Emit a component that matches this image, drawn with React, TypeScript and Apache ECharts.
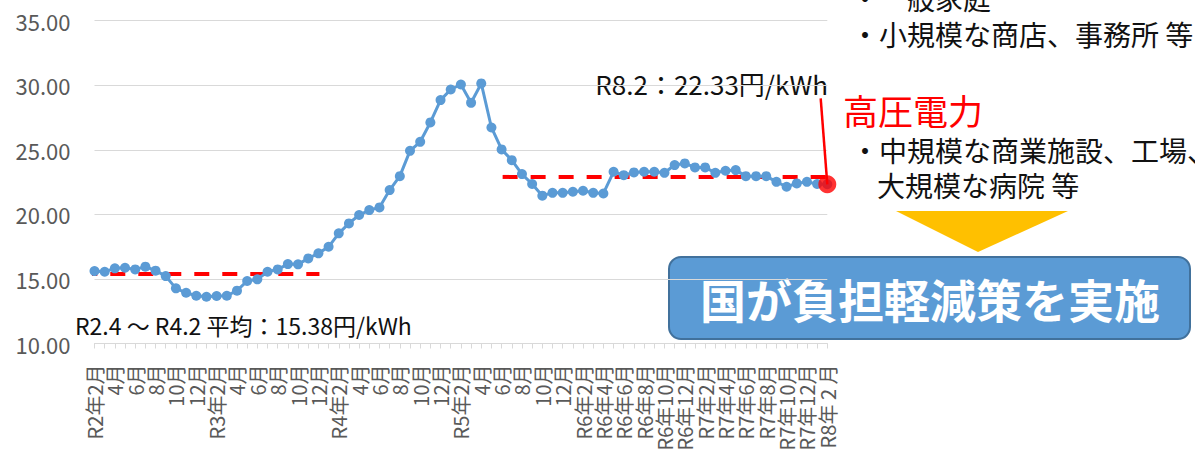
import React, { useEffect, useRef } from "react";
import * as echarts from "echarts";

const FONT = '"Noto Sans CJK JP", "Noto Sans", sans-serif';

// Monthly categories R2年2月 ... R8年2月 (73 months)
const categories: string[] = Array.from({ length: 73 }, (_, i) => {
  const t = 1 + i;
  const y = 2 + Math.floor(t / 12);
  const m = (t % 12) + 1;
  return `R${y}年${m}月`;
});

// Labels shown every 2 months
const tickLabels: string[] = [
  "R2年2月", "4月", "6月", "8月", "10月", "12月",
  "R3年2月", "4月", "6月", "8月", "10月", "12月",
  "R4年2月", "4月", "6月", "8月", "10月", "12月",
  "R5年2月", "4月", "6月", "8月", "10月", "12月",
  "R6年2月", "R6年4月", "R6年6月", "R6年8月", "R6年10月", "R6年12月",
  "R7年2月", "R7年4月", "R7年6月", "R7年8月", "R7年10月", "R7年12月",
  "R8年 2 月",
];

// 高圧電力 unit price (円/kWh)
const prices: number[] = [
  15.61, 15.56, 15.82, 15.87, 15.74, 15.95, 15.64, 15.22, 14.27, 13.93,
  13.70, 13.62, 13.68, 13.70, 14.09, 14.84, 14.97, 15.56, 15.74, 16.15,
  16.13, 16.59, 16.98, 17.49, 18.53, 19.30, 19.95, 20.33, 20.54, 21.88,
  22.96, 24.92, 25.62, 27.12, 28.85, 29.67, 30.06, 28.64, 30.14, 26.73,
  25.03, 24.20, 23.12, 22.35, 21.45, 21.67, 21.67, 21.75, 21.83, 21.67,
  21.62, 23.30, 23.04, 23.25, 23.30, 23.30, 23.22, 23.82, 23.95, 23.64,
  23.64, 23.22, 23.38, 23.43, 22.96, 22.96, 22.96, 22.52, 22.14, 22.40,
  22.52, 22.35, 22.33,
];

// Average reference lines (x in month index units)
const avg1Value = 15.38;
const avg1Range = [-1.2, 22.1];
const avg2Value = 22.9;
const avg2Range = [40.1, 72];

// Latest point highlight
const latestIndex = 72;
const latestValue = 22.33;
const leaderTop = [71.35, 28.98];

// Side notes
const lowVoltageNotes = ["・一般家庭", "・小規模な商店、事務所 等"];
const highVoltageTitle = "高圧電力";
const highVoltageNotes = ["・中規模な商業施設、工場、", "大規模な病院 等"];
const bannerText = "国が負担軽減策を実施";

export default function App() {
  const ref = useRef<HTMLDivElement>(null);
  useEffect(() => {
    if (!ref.current) return;
    const chart = echarts.init(ref.current, undefined, { renderer: "svg" });
    const noteStyle = (text: string, extra: any = {}) => ({
      text,
      fontSize: 28,
      lineHeight: 28,
      fontFamily: FONT,
      fill: "#111",
      verticalAlign: "middle",
      ...extra,
    });
    const option: any = {
      animation: false,
      textStyle: { fontFamily: FONT },
      grid: { left: 94.5, right: 367.7, top: 20.7, bottom: 117.5 },
      xAxis: [
        {
          type: "category",
          data: categories,
          boundaryGap: false,
          axisLine: { lineStyle: { color: "#d9d9d9", width: 1 } },
          axisTick: { show: true, interval: 0, length: 5, lineStyle: { color: "#d9d9d9" } },
          axisLabel: {
            interval: 1,
            rotate: 90,
            margin: 21,
            fontSize: 20,
            color: "#595959",
            fontFamily: FONT,
            formatter: (_v: string, idx: number) => tickLabels[Math.floor(idx / 2)] ?? "",
          },
          splitLine: { show: false },
        },
        { type: "value", min: 0, max: 72, show: false },
      ],
      yAxis: {
        type: "value",
        min: 10,
        max: 35,
        interval: 5,
        axisLine: { show: false },
        axisTick: { show: false },
        axisLabel: {
          formatter: (v: number) => v.toFixed(2),
          fontSize: 22,
          color: "#595959",
          margin: 24,
          fontFamily: FONT,
        },
        splitLine: { lineStyle: { color: "#d9d9d9", width: 1 } },
      },
      series: [
        {
          type: "line",
          xAxisIndex: 1,
          data: [[avg1Range[0], avg1Value], [avg1Range[1], avg1Value]],
          symbol: "none",
          clip: false,
          lineStyle: { color: "#ff0000", width: 4, type: [15, 13] },
          z: 2,
        },
        {
          type: "line",
          xAxisIndex: 1,
          data: [[avg2Range[0], avg2Value], [avg2Range[1], avg2Value]],
          symbol: "none",
          clip: false,
          lineStyle: { color: "#ff0000", width: 4, type: [15, 13] },
          z: 2,
        },
        {
          type: "line",
          data: prices,
          symbol: "circle",
          symbolSize: 10,
          showAllSymbol: true,
          itemStyle: { color: "#5b9bd5" },
          lineStyle: { color: "#5b9bd5", width: 3 },
          z: 3,
        },
        {
          type: "line",
          xAxisIndex: 1,
          data: [leaderTop, [latestIndex, latestValue]],
          symbol: "none",
          clip: false,
          lineStyle: { color: "#ff0000", width: 2.5 },
          z: 5,
        },
        {
          type: "scatter",
          data: [[latestIndex, latestValue]],
          symbol: "circle",
          symbolSize: 18,
          itemStyle: { color: "#ff0000" },
          z: 6,
        },
      ],
      graphic: [
        {
          type: "text",
          x: 828,
          y: 83,
          style: {
            text: "R8.2：22.33円/kWh",
            fontSize: 26,
            fontFamily: FONT,
            fill: "#111",
            align: "right",
            verticalAlign: "middle",
          },
        },
        {
          type: "text",
          x: 75,
          y: 325,
          style: {
            text: "R2.4 ～ R4.2 平均：15.38円/kWh",
            fontSize: 23,
            fontFamily: FONT,
            fill: "#111",
            align: "left",
            verticalAlign: "middle",
          },
        },
        { type: "text", x: 851, y: -2, style: noteStyle(lowVoltageNotes[0]) },
        { type: "text", x: 851, y: 34, style: noteStyle(lowVoltageNotes[1]) },
        {
          type: "text",
          x: 843,
          y: 109,
          style: { text: highVoltageTitle, fontSize: 35, lineHeight: 35, fontFamily: FONT, fill: "#ff0000", verticalAlign: "middle" },
        },
        { type: "text", x: 851, y: 150, style: noteStyle(highVoltageNotes[0]) },
        { type: "text", x: 877, y: 185, style: noteStyle(highVoltageNotes[1]) },
        {
          type: "polygon",
          shape: { points: [[896, 211], [1068, 211], [978, 252]] },
          style: { fill: "#ffc000" },
        },
        {
          type: "rect",
          shape: { x: 669, y: 257, width: 521, height: 82, r: 12 },
          style: { fill: "#5b9bd5", stroke: "#41719c", lineWidth: 2 },
        },
        {
          type: "text",
          x: 930,
          y: 298,
          style: {
            text: bannerText,
            fontSize: 46,
            fontWeight: "bold",
            fontFamily: FONT,
            fill: "#ffffff",
            align: "center",
            verticalAlign: "middle",
          },
        },
      ],
    };
    chart.setOption(option);
    return () => chart.dispose();
  }, []);
  return (
    <div
      ref={ref}
      style={{ position: "fixed", left: 0, top: 0, width: 1195, height: 461, background: "#fff" }}
    />
  );
}
